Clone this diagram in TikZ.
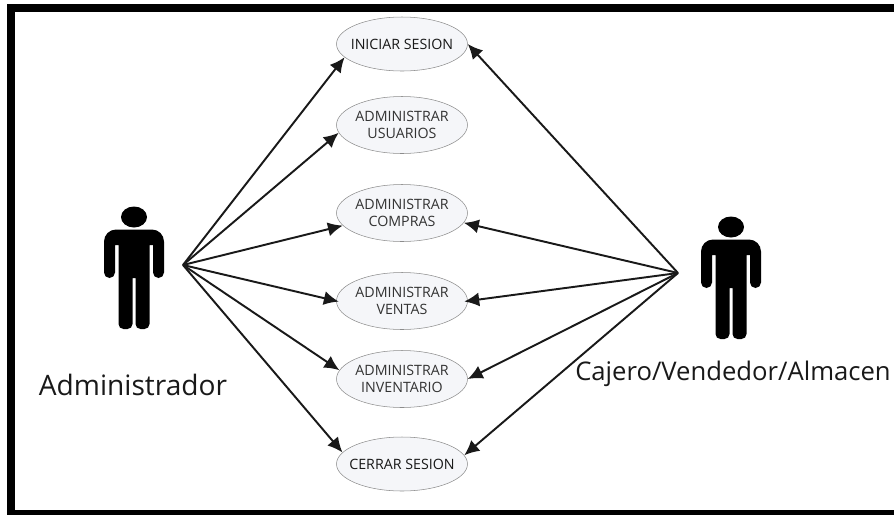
\documentclass[tikz,border=0pt]{standalone}
\usepackage{fontspec}
\setmainfont{Open Sans}
\usetikzlibrary{arrows.meta,shapes.geometric}
\definecolor{casefill}{HTML}{F5F6F9}
\tikzset{
	usecase/.style={ellipse,draw=black!45,line width=0.3pt,fill=casefill,text=black!80,align=center,
		inner xsep=-4pt,inner ysep=0pt,minimum width=131*0.02cm,minimum height=57*0.02cm,
		font=\fontsize{8.1}{10}\selectfont},
	flow/.style={black!90,line width=1.1pt,-{Latex[length=8.5pt,width=8pt]}},
	actorlabel/.style={inner sep=0pt,text=black!90},
	actor/.pic={
		\fill [black] (0,0) ellipse [x radius=13,y radius=10.5];
		\fill [black] (-18,-12.5) -- (18,-12.5) arc [start angle=90,end angle=0,radius=12]
			-- (30,-55.5) arc [start angle=0,end angle=-180,radius=5.5]
			-- (19,-28) -- (15.5,-28) -- (15.5,-107) arc [start angle=0,end angle=-90,radius=5]
			-- (6.5,-112) arc [start angle=-90,end angle=-180,radius=5]
			-- (1.5,-61) -- (-1.5,-61) -- (-1.5,-107) arc [start angle=0,end angle=-90,radius=5]
			-- (-10.5,-112) arc [start angle=-90,end angle=-180,radius=5]
			-- (-15.5,-28) -- (-19,-28) -- (-19,-55.5) arc [start angle=0,end angle=-180,radius=5.5]
			-- (-30,-24.5) arc [start angle=180,end angle=90,radius=12] -- cycle;
	}
}
\begin{document}
\begin{tikzpicture}[x=0.02cm,y=0.02cm]
	\useasboundingbox (0,0) rectangle (894,-515);
	% frame, open on the right
	\fill [black] (7,-4) rectangle (894,-12);
	\fill [black] (7,-4) rectangle (15,-515);
	\fill [black] (7,-510) rectangle (894,-515);
	\pic at (134,-217) {actor};
	\pic at (731,-227) {actor};
	\node [actorlabel,font=\fontsize{16}{18}\selectfont] (adminlabel) at (133,-385) {Administrador};
	\node [actorlabel,font=\fontsize{14.6}{16}\selectfont] (cajerolabel) at (733,-374) {Cajero/Vendedor/Almacen};
	\coordinate (admin) at (183,-265);
	\coordinate (cajero) at (678,-273);
	\node [usecase,text=black!90,minimum height=54*0.02cm] (iniciar) at (402,-44) {INICIAR SESION};
	\node [usecase] (usuarios) at (402,-125) {ADMINISTRAR\\USUARIOS};
	\node [usecase] (compras) at (402,-213) {ADMINISTRAR\\COMPRAS};
	\node [usecase] (ventas) at (402,-301) {ADMINISTRAR\\VENTAS};
	\node [usecase] (inventario) at (402,-379) {ADMINISTRAR\\INVENTARIO};
	\node [usecase,text=black!90,minimum height=54*0.02cm] (cerrar) at (402,-464) {CERRAR SESION};
	\draw [flow] (admin) -- (iniciar.193);
	\draw [flow] (admin) -- (usuarios.187);
	\draw [flow] (admin) -- (compras.192);
	\draw [flow,shorten >=-1.5pt] (admin) -- (ventas.180);
	\draw [flow] (admin) -- (inventario.172);
	\draw [flow] (admin) -- (cerrar.169);
	\draw [flow] (cajero) -- (iniciar.0);
	\draw [flow] (cajero) -- (compras.351);
	\draw [flow,shorten >=-2pt] (cajero) -- (ventas.0);
	\draw [flow] (cajero) -- (inventario.0);
	\draw [flow] (cajero) -- (cerrar.8);
\end{tikzpicture}
\end{document}
